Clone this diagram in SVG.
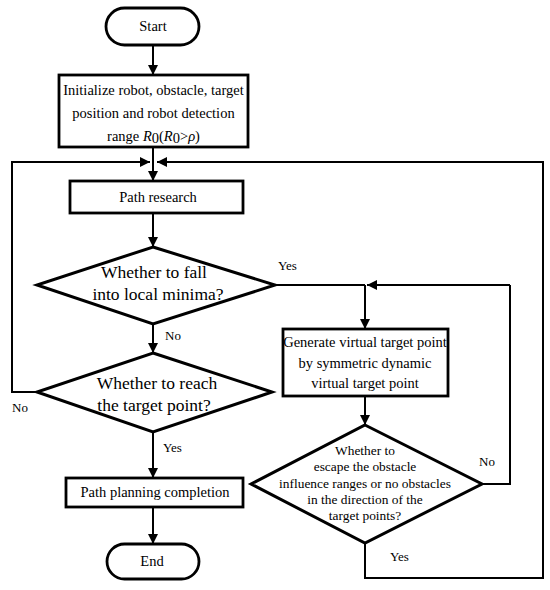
<svg xmlns="http://www.w3.org/2000/svg" width="550" height="590" viewBox="0 0 550 590">
<defs>
<marker id="ah" viewBox="0 0 10 10" refX="10" refY="5" markerWidth="10" markerHeight="10" markerUnits="userSpaceOnUse" orient="auto">
<path d="M0,0 L10,5 L0,10 Z" fill="#000"/>
</marker>
<style>
.box{fill:#fff;stroke:#000;stroke-width:2.8}
.dia{fill:#fff;stroke:#000;stroke-width:3}
.ln{fill:none;stroke:#000;stroke-width:2;marker-end:url(#ah)}
.pl{fill:none;stroke:#000;stroke-width:2}
text{font-family:"Liberation Serif","Times New Roman",serif;fill:#000;text-anchor:middle}
.t15{font-size:14.5px}
.t17{font-size:17.5px}
.t14{font-size:14.5px}
.t12{font-size:13.4px}
.lb{font-size:13px;text-anchor:start}
</style>
</defs>
<rect width="550" height="590" fill="#fff"/>
<g id="connectors">
<path class="ln" d="M153,45 V75"/>
<path class="ln" d="M153,147 V181"/>
<path class="ln" d="M37,392 H12 V162 H150"/>
<path class="ln" d="M365,543 V578 H543 V162 H157"/>
<path class="ln" d="M153,213 V247"/>
<path class="ln" d="M153,324 V353"/>
<path class="pl" d="M275,285 H365"/>
<path class="ln" d="M510,285 H367"/>
<path class="ln" d="M365,285 V329"/>
<path class="ln" d="M365,396 V425"/>
<path class="pl" d="M482,484 H510 V285"/>
<path class="ln" d="M153,432 V478"/>
<path class="ln" d="M153,507 V544"/>
</g>
<g id="start">
<rect class="box" x="106" y="8" width="93" height="37" rx="18.5"/>
<text class="t15" x="153" y="31">Start</text>
</g>
<g id="init">
<rect class="box" x="59" y="75" width="189" height="72"/>
<text class="t15" x="153.5" y="95">Initialize robot, obstacle, target</text>
<text class="t15" x="153.5" y="118">position and robot detection</text>
<text class="t15" x="153.5" y="141">range <tspan font-style="italic">R</tspan><tspan dy="2">0</tspan><tspan dy="-2">(</tspan><tspan font-style="italic">R</tspan><tspan dy="2">0</tspan><tspan dy="-2">&gt;</tspan><tspan font-style="italic">ρ</tspan>)</text>
</g>
<g id="path-research">
<rect class="box" x="70" y="181" width="173" height="32"/>
<text class="t15" x="158" y="202">Path research</text>
</g>
<g id="local-minima">
<polygon class="dia" points="153,247 275,285 153,324 37,285"/>
<text class="t17" x="154" y="278">Whether to fall</text>
<text class="t17" x="158" y="300">into local minima?</text>
</g>
<g id="reach-target">
<polygon class="dia" points="153,353 272,392 153,432 37,392"/>
<text class="t17" x="157" y="389">Whether to reach</text>
<text class="t17" x="154" y="411">the target point?</text>
</g>
<g id="generate">
<rect class="box" x="283" y="329" width="165" height="67"/>
<text class="t14" x="365" y="347">Generate virtual target point</text>
<text class="t14" x="365" y="368">by symmetric dynamic</text>
<text class="t14" x="365" y="388">virtual target point</text>
</g>
<g id="escape">
<polygon class="dia" points="365,425 482,484 365,543 251,484"/>
<text class="t12" x="365" y="455">Whether to</text>
<text class="t12" x="365" y="471">escape the obstacle</text>
<text class="t12" x="365" y="488">influence ranges or no obstacles</text>
<text class="t12" x="365" y="504">in the direction of the</text>
<text class="t12" x="365" y="520">target points?</text>
</g>
<g id="completion">
<rect class="box" x="66" y="478" width="177" height="29"/>
<text class="t15" x="155" y="497">Path planning completion</text>
</g>
<g id="end">
<rect class="box" x="107" y="544" width="92" height="35" rx="17.5"/>
<text class="t15" x="152" y="566">End</text>
</g>
<g id="labels">
<text class="lb" x="278" y="270">Yes</text>
<text class="lb" x="165" y="340">No</text>
<text class="lb" x="12" y="412">No</text>
<text class="lb" x="163" y="452">Yes</text>
<text class="lb" x="479" y="466">No</text>
<text class="lb" x="390" y="561">Yes</text>
</g>
</svg>
